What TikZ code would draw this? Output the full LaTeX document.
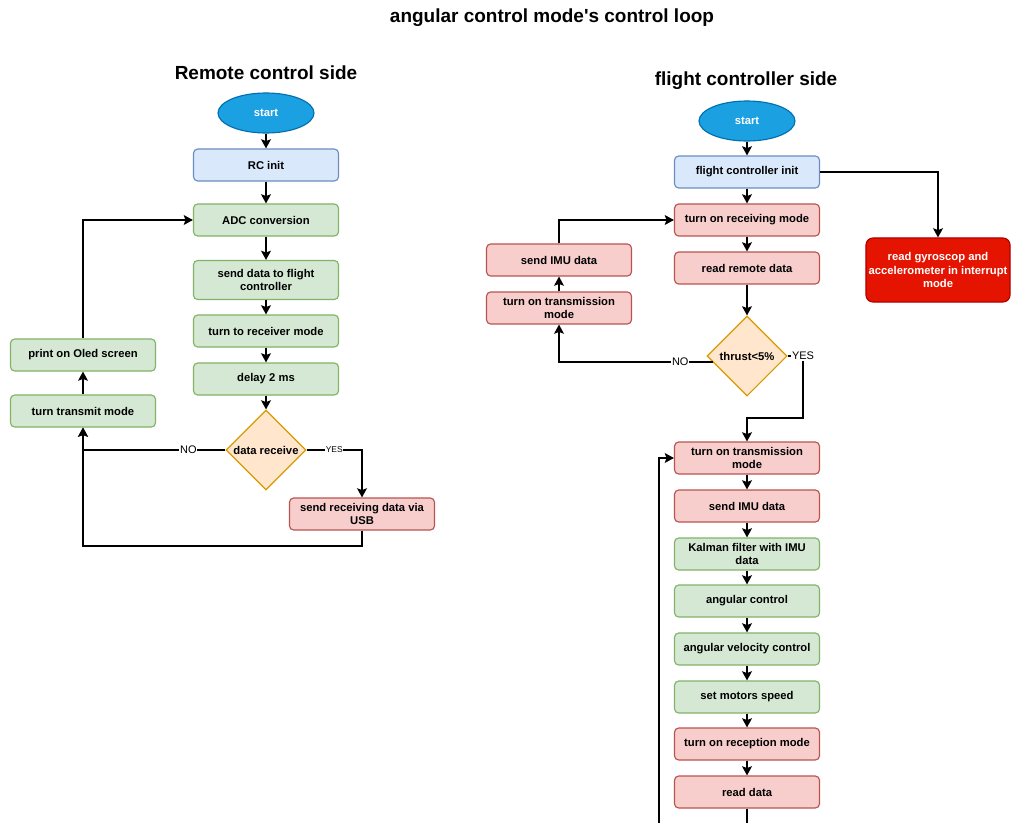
\documentclass[tikz,border=0pt]{standalone}
\usepackage{fontspec}
\setmainfont{Liberation Sans}
\usepackage{xcolor}
\usepackage{tikz}
\usetikzlibrary{shapes.geometric,arrows.meta}
\definecolor{CLBlueFill}{HTML}{DAE8FC}
\definecolor{CLBlueLine}{HTML}{6C8EBF}
\definecolor{CLGreenFill}{HTML}{D5E8D4}
\definecolor{CLGreenLine}{HTML}{82B366}
\definecolor{CLRedFill}{HTML}{F8CECC}
\definecolor{CLRedLine}{HTML}{B85450}
\definecolor{CLOrangeFill}{HTML}{FFE6CC}
\definecolor{CLOrangeLine}{HTML}{D79B00}
\definecolor{CLStart}{HTML}{1BA1E2}
\definecolor{CLStartLine}{HTML}{006EAF}
\definecolor{CLAlarm}{HTML}{E51400}
\definecolor{CLAlarmLine}{HTML}{B20000}
\newcommand{\clbox}{\fontsize{8}{9.5}\selectfont\bfseries}
\newcommand{\clhead}{\fontsize{13.5}{16}\selectfont\bfseries}

\begin{document}
\begin{tikzpicture}[x=0.025cm,y=-0.025cm,
  stepbox/.style={rounded corners=3pt,line width=.8pt,minimum width=3.625cm,minimum height=0.8cm,align=center,inner sep=1pt,font=\clbox},
  initbox/.style={stepbox,fill=CLBlueFill,draw=CLBlueLine},
  workbox/.style={stepbox,fill=CLGreenFill,draw=CLGreenLine},
  radiobox/.style={stepbox,fill=CLRedFill,draw=CLRedLine},
  alarmbox/.style={stepbox,fill=CLAlarm,draw=CLAlarmLine,text=white,minimum width=3.6cm,minimum height=1.6cm,rounded corners=5pt},
  startnode/.style={ellipse,fill=CLStart,draw=CLStartLine,line width=.8pt,minimum width=2.4cm,minimum height=1cm,text=white,font=\clbox},
  decision/.style={diamond,aspect=1,fill=CLOrangeFill,draw=CLOrangeLine,line width=.8pt,minimum width=2cm,minimum height=2cm,inner sep=0pt,font=\clbox},
  flow/.style={line width=1pt,-{Stealth[length=6.5pt,width=7pt,inset=1.2pt]}},
  answer/.style={fill=white,inner sep=.5pt,font=\fontsize{7.8}{9}\selectfont}]
\path[use as bounding box] (0,0) rectangle (1011,822);
\fill[white] (0,0) rectangle (1011,822);
\clip (0,0) rectangle (1011,822);
\node (title) at (552,18) {\clhead angular control mode\textquotesingle s control loop};
\node (rcside) at (266,73) {\clhead Remote control side};
\node (fcside) at (746,81) {\clhead flight controller side};

\node[startnode] (rcstart) at (266,113) {start};
\node[initbox] (rcinit) at (266,165) {RC init};
\node[workbox] (adc) at (266,220) {ADC conversion};
\node[workbox,minimum height=0.975cm] (senddata) at (266,280) {send data to flight\\controller};
\node[workbox] (receiver) at (266,331) {turn to receiver mode};
\node[workbox] (delay) at (266,379) {delay 2 ms};
\node[decision] (datarec) at (266,450) {data receive};
\node[radiobox] (usb) at (362,514) {send receiving data via\\USB};
\node[workbox] (oled) at (83,355) {print on Oled screen};
\node[workbox] (transmit) at (83,411) {turn transmit mode};
\coordinate (rcloop) at (83,546);
\draw[flow] (rcstart) -- (rcinit);
\draw[flow] (rcinit) -- (adc);
\draw[flow] (adc) -- (senddata);
\draw[flow] (senddata) -- (receiver);
\draw[flow] (receiver) -- (delay);
\draw[flow] (delay) -- (datarec);
\draw[flow] (datarec.west) -- node[answer,pos=.26] {NO} (datarec.west -| transmit.south) -- (transmit.south);
\draw[flow] (datarec.east) -- node[answer,pos=.5,font=\fontsize{6}{7}\selectfont] {YES} (datarec.east -| usb.north) -- (usb.north);
\draw[flow] (usb.south) |- (rcloop) -- (transmit.south);
\draw[flow] (transmit) -- (oled);
\draw[flow] (oled.north) |- (adc.west);

\node[startnode] (fcstart) at (747,121) {start};
\node[initbox] (fcinit) at (747,172) {flight controller init};
\node[radiobox] (rxon) at (747,220) {turn on receiving mode};
\node[radiobox] (readremote) at (747,268) {read remote data};
\node[decision] (thrust) at (747,356) {thrust<5\%};
\node[radiobox] (imuback) at (559,260) {send IMU data};
\node[radiobox] (txback) at (559,308) {turn on transmission\\mode};
\node[alarmbox] (gyro) at (938,270) {read gyroscop and\\accelerometer in interrupt\\mode};
\coordinate (fcyes) at (803,418);
\draw[flow] (fcstart) -- (fcinit);
\draw[flow] (fcinit) -- (rxon);
\draw[flow] (rxon) -- (readremote);
\draw[flow] (readremote) -- (thrust);
\draw[flow] (fcinit.east) -| (gyro.north);
\draw[flow] (thrust.190) -- node[answer,pos=.21] {NO} (thrust.190 -| txback.south) -- (txback.south);
\draw[flow] (txback) -- (imuback);
\draw[flow] (imuback.north) |- (rxon.west);

\node[radiobox] (txon) at (747,458) {turn on transmission\\mode};
\node[radiobox] (sendimu) at (747,506) {send IMU data};
\node[workbox] (kalman) at (747,554) {Kalman filter with IMU\\data};
\node[workbox] (angctrl) at (747,601) {angular control};
\node[workbox] (angvel) at (747,649) {angular velocity control};
\node[workbox] (motors) at (747,697) {set motors speed};
\node[radiobox] (rxmode) at (747,744) {turn on reception mode};
\node[radiobox] (readdata) at (747,792) {read data};
\coordinate (fcloop) at (659,850);
\draw[flow] (thrust.east) -| node[answer,pos=.5] {YES} (fcyes) -| (txon.north);
\draw[flow] (txon) -- (sendimu);
\draw[flow] (sendimu) -- (kalman);
\draw[flow] (kalman) -- (angctrl);
\draw[flow] (angctrl) -- (angvel);
\draw[flow] (angvel) -- (motors);
\draw[flow] (motors) -- (rxmode);
\draw[flow] (rxmode) -- (readdata);
\draw[flow] (readdata.south) |- (fcloop) |- (txon.west);
\end{tikzpicture}
\end{document}
